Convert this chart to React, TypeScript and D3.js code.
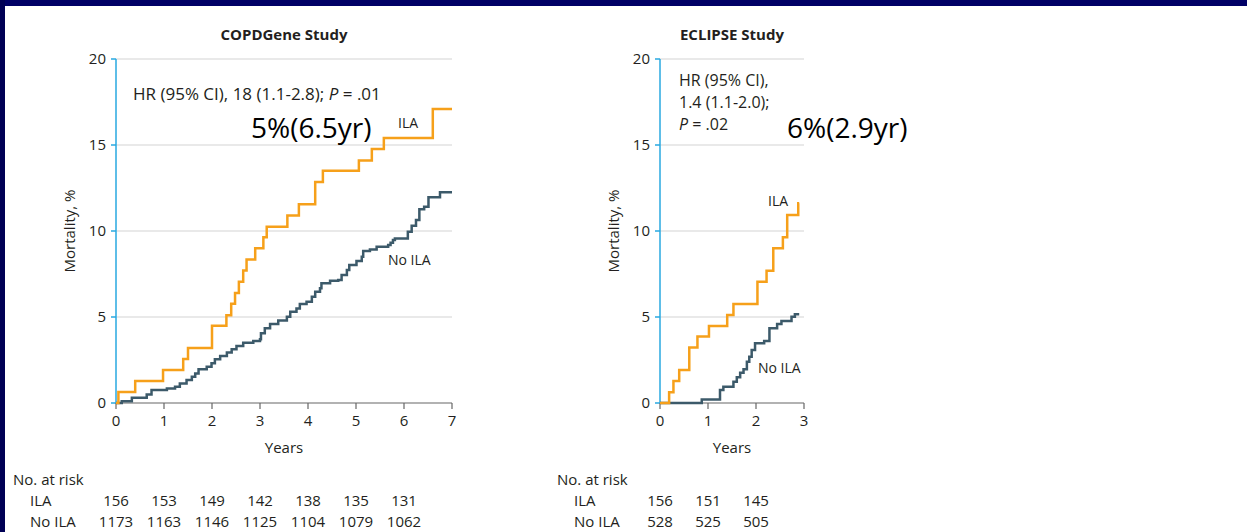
import React from 'react'
import * as d3 from 'd3'

// Kaplan-Meier step points: [years, mortality %]
const copdIla: [number, number][] = [
  [0, 0], [0.05, 0.64], [0.4, 1.28], [0.98, 1.92], [1.4, 2.56], [1.5, 3.2], [2.0, 4.49],
  [2.3, 5.1], [2.4, 5.77], [2.48, 6.4], [2.56, 7.05], [2.65, 7.7], [2.72, 8.35], [2.9, 9.0],
  [3.07, 9.64], [3.14, 10.25], [3.57, 10.9], [3.81, 11.55], [4.15, 12.85], [4.31, 13.5],
  [5.06, 14.1], [5.33, 14.77], [5.58, 15.4], [6.6, 17.1], [7, 17.1],
]
const copdNoIla: [number, number][] = [
  [0, 0], [0.12, 0.1], [0.33, 0.3], [0.64, 0.5], [0.74, 0.76], [1.06, 0.85], [1.23, 0.95],
  [1.33, 1.14], [1.47, 1.34], [1.58, 1.53], [1.65, 1.72], [1.72, 1.96], [1.89, 2.11],
  [1.99, 2.31], [2.06, 2.54], [2.17, 2.73], [2.31, 2.93], [2.41, 3.12], [2.51, 3.31],
  [2.65, 3.51], [2.86, 3.6], [3.0, 3.7], [3.02, 4.05], [3.1, 4.34], [3.21, 4.59],
  [3.38, 4.79], [3.56, 5.02], [3.63, 5.31], [3.76, 5.5], [3.83, 5.76], [3.97, 5.89],
  [4.08, 6.18], [4.15, 6.47], [4.25, 6.67], [4.28, 6.96], [4.46, 7.11], [4.63, 7.15],
  [4.7, 7.44], [4.81, 7.73], [4.86, 8.02], [5.01, 8.26], [5.12, 8.51], [5.15, 8.84],
  [5.29, 8.93], [5.43, 9.09], [5.67, 9.19], [5.72, 9.32], [5.77, 9.48], [5.81, 9.57],
  [6.08, 9.96], [6.16, 10.31], [6.25, 10.64], [6.32, 11.26], [6.42, 11.41], [6.51, 11.96],
  [6.75, 12.25], [7, 12.25],
]
const eclipseIla: [number, number][] = [
  [0, 0], [0.19, 0.62], [0.28, 1.28], [0.4, 1.92], [0.61, 3.22], [0.78, 3.86], [1.02, 4.48],
  [1.4, 5.12], [1.53, 5.76], [2.03, 7.05], [2.22, 7.69], [2.36, 8.99], [2.56, 9.63],
  [2.65, 10.93], [2.88, 11.61], [2.9, 11.61],
]
const eclipseNoIla: [number, number][] = [
  [0, 0], [0.87, 0.2], [1.25, 0.76], [1.32, 0.95], [1.53, 1.24], [1.6, 1.49], [1.67, 1.76],
  [1.74, 1.96], [1.81, 2.4], [1.86, 2.69], [1.91, 3.08], [1.98, 3.47], [2.17, 3.6],
  [2.28, 4.34], [2.44, 4.59], [2.53, 4.77], [2.74, 5.02], [2.81, 5.16], [2.9, 5.16],
]

const yTicks = [0, 5, 10, 15, 20]
const copdYears = [0, 1, 2, 3, 4, 5, 6, 7]
const eclipseYears = [0, 1, 2, 3]
const copdRiskIla = [156, 153, 149, 142, 138, 135, 131]
const copdRiskNoIla = [1173, 1163, 1146, 1125, 1104, 1079, 1062]
const eclipseRiskIla = [156, 151, 145]
const eclipseRiskNoIla = [528, 525, 505]

const orange = '#f6a01a'
const slate = '#3c5a6a'
const axisBlue = '#29a8e0'
const ink = '#231f20'
const font = "'Open Sans', 'Noto Sans', sans-serif"

const yScale = d3.scaleLinear().domain([0, 20]).range([403, 59])

function Panel({ x0, years, title, ila, noIla, riskIla, riskNoIla, hr, big, ilaLabel, noIlaLabel }: any) {
  const xScale = d3.scaleLinear().domain([0, years[years.length - 1]]).range([x0, x0 + 48 * years[years.length - 1]])
  const line = d3.line<[number, number]>()
    .x(d => xScale(d[0]))
    .y(d => yScale(d[1]))
    .curve(d3.curveStepAfter)
  const [xa, xb] = xScale.range()
  const cx = (xa + xb) / 2
  const titleX = years.length > 4 ? cx : x0 + 72
  return (
    <g fontFamily={font} fill={ink}>
      <text x={titleX} y={40} textAnchor="middle" fontSize={15} fontWeight="bold">{title}</text>
      {yTicks.map(t => (
        <g key={t}>
          {t > 0 && <line x1={xa} x2={xb} y1={yScale(t)} y2={yScale(t)} stroke="#e2e2e2" strokeWidth={1.5} />}
          <line x1={xa - 5} x2={xa} y1={yScale(t)} y2={yScale(t)} stroke={axisBlue} strokeWidth={1.5} />
          <text x={xa - 10} y={yScale(t) + 5} textAnchor="end" fontSize={15}>{t}</text>
        </g>
      ))}
      <text transform={`translate(${xa - 41},${yScale(10)}) rotate(-90)`} textAnchor="middle" fontSize={15}>Mortality, %</text>
      <line x1={xa} x2={xb} y1={yScale(0)} y2={yScale(0)} stroke="#666" strokeWidth={1.2} />
      {years.map((t: number) => (
        <g key={t}>
          <line x1={xScale(t)} x2={xScale(t)} y1={yScale(0)} y2={yScale(0) + 6} stroke="#666" strokeWidth={1.2} />
          <text x={xScale(t)} y={426} textAnchor="middle" fontSize={15}>{t}</text>
        </g>
      ))}
      <line x1={xa} x2={xa} y1={yScale(20)} y2={yScale(0)} stroke={axisBlue} strokeWidth={1.5} />
      <path d={line(noIla) ?? ''} fill="none" stroke={slate} strokeWidth={2.5} />
      <path d={line(ila) ?? ''} fill="none" stroke={orange} strokeWidth={2.5} />
      <text x={cx} y={453} textAnchor="middle" fontSize={15}>Years</text>
      {hr.lines.map((l: any, i: number) => (
        <text key={i} x={xa + hr.dx} y={hr.y + i * 22} fontSize={hr.size}>{l}</text>
      ))}
      <text x={big.x} y={138} fontSize={28} fill="#000" fontFamily="'Open Sans', sans-serif">{big.text}</text>
      <text x={ilaLabel.x} y={ilaLabel.y} fontSize={14}>ILA</text>
      <text x={noIlaLabel.x} y={noIlaLabel.y} fontSize={14}>No ILA</text>
      <text x={x0 - 103} y={485} fontSize={15}>No. at risk</text>
      <text x={x0 - 86} y={506} fontSize={15}>ILA</text>
      <text x={x0 - 86} y={527} fontSize={15}>No ILA</text>
      {riskIla.map((v: number, i: number) => (
        <text key={'a' + i} x={xScale(years[i])} y={506} textAnchor="middle" fontSize={15}>{v}</text>
      ))}
      {riskNoIla.map((v: number, i: number) => (
        <text key={'b' + i} x={xScale(years[i])} y={527} textAnchor="middle" fontSize={15}>{v}</text>
      ))}
    </g>
  )
}

export default function App() {
  return (
    <svg width={1247} height={532} style={{ position: 'absolute', left: 0, top: 0, background: '#fff' }}>
      <rect x={0} y={0} width={1247} height={6} fill="#000066" />
      <rect x={0} y={0} width={5} height={532} fill="#000055" />
      <Panel
        x0={116}
        years={copdYears}
        title="COPDGene Study"
        ila={copdIla}
        noIla={copdNoIla}
        riskIla={copdRiskIla}
        riskNoIla={copdRiskNoIla}
        hr={{ dx: 17, y: 100, size: 17, lines: [<tspan key="a">HR (95% CI), 18 (1.1-2.8); <tspan fontStyle="italic">P</tspan> = .01</tspan>] }}
        big={{ x: 251, text: '5%(6.5yr)' }}
        ilaLabel={{ x: 398, y: 128 }}
        noIlaLabel={{ x: 388, y: 265 }}
      />
      <Panel
        x0={660}
        years={eclipseYears}
        title="ECLIPSE Study"
        ila={eclipseIla}
        noIla={eclipseNoIla}
        riskIla={eclipseRiskIla}
        riskNoIla={eclipseRiskNoIla}
        hr={{ dx: 19, y: 86, size: 16, lines: ['HR (95% CI),', '1.4 (1.1-2.0);', <tspan key="p"><tspan fontStyle="italic">P</tspan> = .02</tspan>] }}
        big={{ x: 787, text: '6%(2.9yr)' }}
        ilaLabel={{ x: 768, y: 206 }}
        noIlaLabel={{ x: 758, y: 373 }}
      />
    </svg>
  )
}
